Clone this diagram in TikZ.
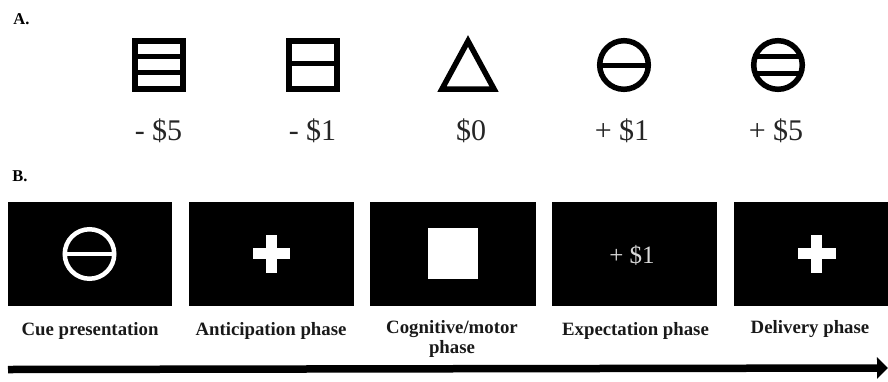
\documentclass[tikz,border=0pt]{standalone}
\usepackage{fontspec}
\setmainfont{Liberation Serif}
\usetikzlibrary{arrows.meta}
\tikzset{
  panel/.style={fill=black, draw=none, inner sep=0pt, minimum height=104pt, anchor=north west},
  icon/.style={draw=black, line width=5.5pt, fill=none},
  whiteicon/.style={draw=white, line width=4.5pt, fill=none},
  whitefill/.style={fill=white, draw=none, inner sep=0pt},
  prize/.style={font=\fontsize{30}{30}\selectfont, text=black!85, inner sep=0pt},
  phase/.style={font=\fontsize{18.8}{20}\selectfont\bfseries, text=black!90, inner sep=0pt, align=center},
  letter/.style={font=\fontsize{16.5}{18}\selectfont\bfseries, inner sep=0pt}
}
\begin{document}
\begin{tikzpicture}[x=1pt, y=-1pt]
\useasboundingbox (0,0) rectangle (888,381);
\node[letter] (labelA) at (21.5,19) {A.};
\node[letter] (labelB) at (20,176) {B.};
% icons
\draw[icon] (135,41) rectangle (183,89);
\draw[icon, line width=5pt] (135,56.7) -- (183,56.7) (135,72.5) -- (183,72.5);
\draw[icon] (289,41) rectangle (337,89);
\draw[icon, line width=5pt] (289,63.5) -- (337,63.5);
\draw[icon, line join=miter] (468,41) -- (494,89) -- (442,89) -- cycle;
\draw[icon] (624,65) circle (24.3);
\draw[icon, line width=5pt] (600,65) -- (648,65);
\draw[icon] (778,65) circle (24.3);
\draw[icon, line width=5pt] (754,56.5) -- (802,56.5) (754,73) -- (802,73);
\foreach \x/\txt/\nm in {158.5/- \$5/a, 312.5/- \$1/b, 471/\$0/c, 622/+ \$1/d, 776/+ \$5/e}
  \node[prize] (prize\nm) at (\x,131) {\txt};
% panels
\foreach \x/\w/\nm in {8/164/cue, 189/165/anticipation, 370/166/motor, 552/165/expectation, 734/154/delivery}
  \node[panel, minimum width=\w pt] (\nm) at (\x,202) {};
\draw[whiteicon] (89.5,254) circle (24.75);
\draw[whiteicon] (65,254) -- (114,254);
\foreach \c in {271.3,816.8} {
  \fill[white] (\c-5.5,235) rectangle (\c+5.5,272.5);
  \fill[white] (\c-18.7,248.2) rectangle (\c+18.7,259.2);
}
\node[whitefill, minimum width=50pt, minimum height=51pt] (target) at (453,253.5) {};
\node[prize, text=white!85!black, font=\fontsize{25}{25}\selectfont] (outcome) at (632,255) {+ \$1};
% labels
\node[phase] (cuetext) at (90,331) {Cue presentation};
\node[phase] (anticipationtext) at (271,331) {Anticipation phase};
\node[phase] (motortext) at (452,339) {Cognitive/motor\\phase};
\node[phase] (expectationtext) at (635.5,331) {Expectation phase};
\node[phase] (deliverytext) at (810,329) {Delivery phase};
% time arrow
\coordinate (start) at (8,369.5);
\coordinate (end) at (888,368);
\draw[line width=7.5pt, -{Triangle[length=11pt,width=21pt]}] (start) -- (end);
\end{tikzpicture}
\end{document}
